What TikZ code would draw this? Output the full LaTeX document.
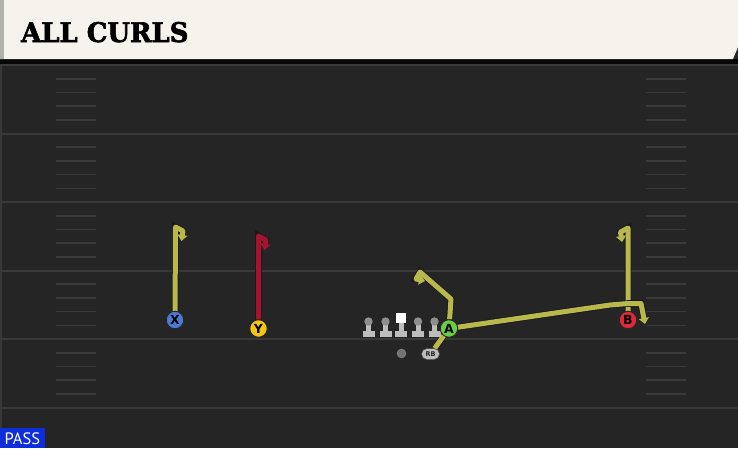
\documentclass[tikz,border=0pt]{standalone}
\usepackage{fontspec}
\newfontfamily\titlefont{DejaVu Serif}[BoldFeatures={FakeBold=2.2}]
\newfontfamily\passfont{PT Sans}
\newfontfamily\lblfont{DejaVu Sans}
\usetikzlibrary{arrows.meta,shapes.misc}
\definecolor{fieldbg}{HTML}{252525}
\definecolor{yardline}{HTML}{393939}
\definecolor{hashc}{HTML}{3A3A3A}
\definecolor{cream}{HTML}{F5F3EC}
\definecolor{creamedge}{HTML}{B2B2AC}
\definecolor{routeyg}{HTML}{B8B84C}
\definecolor{routered}{HTML}{A3142E}
\definecolor{xblue}{HTML}{4A7BD0}
\definecolor{yyellow}{HTML}{F2C518}
\definecolor{agreen}{HTML}{6CCB45}
\definecolor{bred}{HTML}{E0283C}
\definecolor{passblue}{HTML}{0E2EDC}
\definecolor{linegray}{HTML}{BDBDBD}
\pgfdeclarelayer{field}
\pgfdeclarelayer{routes}
\pgfsetlayers{field,routes,main}
\tikzset{
  player/.style={circle, draw=black!85, line width=0.9pt, minimum size=17.5pt, inner sep=0pt,
    font=\lblfont\bfseries\fontsize{12.5}{12.5}\selectfont, text=black},
  route/.style={line width=5pt, line join=round,
    preaction={draw=black!90, line width=6.6pt}},
  tipA/.style={-{Triangle[length=6pt,width=10pt]}},
}
\begin{document}
\begin{tikzpicture}[x=1pt,y=-1pt]
\useasboundingbox (0,0) rectangle (738,448);
\begin{pgfonlayer}{field}
  \fill[fieldbg] (0,0) rectangle (738,448);
  \fill[black!80!fieldbg] (0,59) rectangle (738,64);
  \fill[white!8!fieldbg] (0,64) rectangle (2,448);
  % yard lines
  \foreach \yy in {65,133.5,202,270.5,339,408}
    \draw[yardline, line width=2pt] (0,\yy) -- (738,\yy);
  % hash marks
  \foreach \yy in {65,133.5,202,270.5,339}
    \foreach \k in {1,2,3,4} {
      \draw[hashc, line width=1.6pt] (56,\yy+13.7*\k) -- (96,\yy+13.7*\k);
      \draw[hashc, line width=1.6pt] (646,\yy+13.7*\k) -- (686,\yy+13.7*\k);
    }
  % title bar
  \fill[cream] (0,0) -- (738,0) -- (738,47) -- (733,59) -- (0,59) -- cycle;
  \fill[creamedge] (0,0) rectangle (4,59);
  \fill[passblue] (0,428) rectangle (45,448);
\end{pgfonlayer}
\node[anchor=base west, inner sep=0pt, font=\titlefont\bfseries\fontsize{27}{27}\selectfont, text=black] (title) at (21,42) {\scalebox{0.96}[1]{ALL CURLS}};
\node[anchor=base west, inner sep=0pt, font=\passfont\fontsize{16.5}{16.5}\selectfont, text=white] (pass) at (4.5,444.5) {PASS};
% offensive line
\foreach \cx/\nm in {368.5/lt,385.5/lg,418/rg,434.5/rt} {
  \fill[linegray] (\cx-6,331) rectangle (\cx+6,337);
  \fill[linegray] (\cx-2.5,322) rectangle (\cx+2.5,332);
  \fill[linegray!75!black] (\cx,321.5) circle (4.2);
  \coordinate (\nm) at (\cx,328);
}
\fill[linegray] (395,331) rectangle (407,337);
\fill[linegray] (398.5,322) rectangle (403.5,332);
\node[fill=white, minimum size=9.5pt, inner sep=0pt] (ctr) at (401,318) {};
% QB and RB
\node[circle, fill=black!55, draw=black!45, minimum size=9pt, inner sep=0pt] (QB) at (401.5,353.5) {};
\node[rounded rectangle, fill=linegray, draw=black!70, line width=0.5pt, minimum width=18pt, minimum height=11pt, inner sep=0pt,
  font=\lblfont\bfseries\fontsize{6.5}{6.5}\selectfont, text=black!85] (RB) at (430.5,354) {RB};
% players
\node[player, fill=xblue] (X) at (175,320) {X};
\node[player, fill=yyellow] (Y) at (258.5,328.5) {Y};
\node[player, fill=agreen] (A) at (449,328.5) {A};
\node[player, fill=bred] (B) at (628,320) {B};
\begin{pgfonlayer}{routes}
  \draw[route, routeyg, tipA] (X) -- (175.5,227) -- (183,231) -- (181.5,241);
  \draw[route, routered, tipA] (Y) -- (258.5,236) -- (266,240) -- (264.5,250);
  \draw[route, routeyg, tipA] (B.center) -- (628,228) -- (620.5,232) -- (622,242);
  \draw[route, routeyg, tipA] (A) -- (451,299) -- (420,272) -- (416,279) -- (425,281);
  \draw[route, routeyg, tipA] (RB) -- (A.center) -- (610,305) -- (628,303.5) -- (641,303.5) -- (645,324);
\end{pgfonlayer}
\end{tikzpicture}
\end{document}
